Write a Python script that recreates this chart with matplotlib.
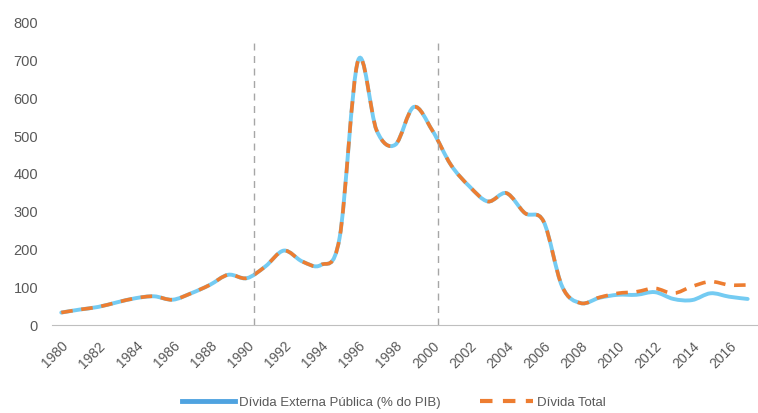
import numpy as np
import matplotlib.pyplot as plt
from matplotlib.path import Path
from matplotlib.patches import PathPatch
from matplotlib.lines import Line2D

plt.rcParams['font.family'] = ['Liberation Sans', 'DejaVu Sans']

# Data
years = list(range(1980, 2018))
divida_externa = [33, 41, 48, 60, 71, 76, 67, 84, 106, 133, 124, 155, 197, 168, 159, 230,
                  700, 515, 477, 577, 515, 424, 367, 327, 349, 296, 274, 102, 58, 72,
                  80, 80, 87, 69, 66, 84, 75, 69]
divida_total = [33, 41, 48, 60, 71, 76, 67, 84, 106, 133, 124, 155, 197, 168, 159, 230,
                700, 515, 477, 577, 515, 424, 367, 327, 349, 296, 274, 102, 58, 73,
                84, 88, 97, 84, 102, 115, 106, 106]
tick_years = list(range(1980, 2017, 2))
marker_years = [1990.4, 2000.3]

blue = '#74CBF2'
orange = '#ED7D31'
grey_txt = '#595959'


def smooth_path(x, y):
    # Catmull-Rom style smoothing (like Excel's smoothed line)
    pts = np.column_stack([x, y]).astype(float)
    n = len(pts)
    verts = [pts[0]]
    codes = [Path.MOVETO]
    for i in range(n - 1):
        p0 = pts[max(i - 1, 0)]
        p1 = pts[i]
        p2 = pts[i + 1]
        p3 = pts[min(i + 2, n - 1)]
        c1 = p1 + (p2 - p0) / 6
        c2 = p2 - (p3 - p1) / 6
        verts += [c1, c2, p2]
        codes += [Path.CURVE4] * 3
    return Path(verts, codes)


fig = plt.figure(figsize=(7.58, 4.13), dpi=100)
ax = fig.add_axes([0.0686, 0.213, 0.93, 0.732])

ax.vlines(marker_years, 0, 745, colors='#A6A6A6', linewidth=1, linestyles=(0, (5, 4)))

ax.add_patch(PathPatch(smooth_path(years, divida_externa), fill=False,
                       edgecolor=blue, linewidth=2.8, capstyle='round'))
ax.add_patch(PathPatch(smooth_path(years, divida_total), fill=False,
                       edgecolor=orange, linewidth=2.6, linestyle=(0, (3.2, 2.4))))

ax.set_xlim(1979.5, 2017.5)
ax.set_ylim(0, 800)
ax.set_yticks(range(0, 801, 100))
ax.set_xticks(tick_years)
ax.set_xticklabels([str(y) for y in tick_years], rotation=45, ha='right',
                   rotation_mode='anchor')
ax.tick_params(axis='both', length=0, colors=grey_txt)
ax.tick_params(axis='y', pad=10, labelsize=10.5)
ax.tick_params(axis='x', pad=10, labelsize=10)

for s in ['top', 'right', 'left']:
    ax.spines[s].set_visible(False)
ax.spines['bottom'].set_color('#BFBFBF')

handles = [Line2D([], [], color='#4FA3E0', linewidth=3.5),
           Line2D([], [], color=orange, linewidth=3, linestyle=(0, (3, 2.5)))]
fig.legend(handles, ['Dívida Externa Pública (% do PIB)', 'Dívida Total'],
           loc='center', bbox_to_anchor=(0.52, 0.025), ncol=2, frameon=False,
           fontsize=9.5, handlelength=4, columnspacing=3, labelcolor=grey_txt,
           handletextpad=0.3)

fig.savefig('out.png', dpi=100)
